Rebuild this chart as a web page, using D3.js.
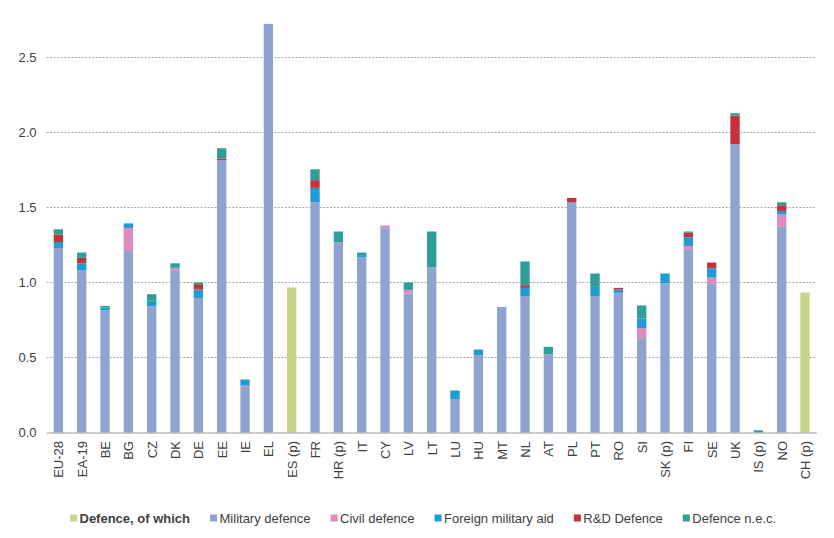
<!DOCTYPE html>
<html>
<head>
<meta charset="utf-8">
<script src="https://cdn.jsdelivr.net/npm/d3@7"></script>
<style>
  body { margin: 0; background: #fff; }
  svg { display: block; font-family: "Liberation Sans", Arial, sans-serif; }
</style>
</head>
<body>
<svg id="chart" width="834" height="538"></svg>
<script>
const categories = ["EU-28","EA-19","BE","BG","CZ","DK","DE","EE","IE","EL","ES (p)","FR","HR (p)","IT","CY","LV","LT","LU","HU","MT","NL","AT","PL","PT","RO","SI","SK (p)","FI","SE","UK","IS (p)","NO","CH (p)"];

// Total defence only (countries without breakdown)
const defenceTotal = [0,0,0,0,0,0,0,0,0,0,0.967,0,0,0,0,0,0,0,0,0,0,0,0,0,0,0,0,0,0,0,0,0,0.933];
const militaryDefence = [1.23,1.08,0.815,1.21,0.842,1.077,0.897,1.815,0.304,2.724,0,1.535,1.267,1.167,1.362,0.927,1.10,0.22,0.515,0.837,0.909,0.522,1.531,0.909,0.931,0.629,0.995,1.217,0.989,1.922,0,1.371,0];
const civilDefence = [0,0,0,0.154,0,0.016,0,0,0.008,0,0,0,0,0,0.018,0.024,0,0,0,0,0,0,0,0,0,0.068,0,0.027,0.044,0,0,0.082,0];
const foreignMilitaryAid = [0.04,0.047,0.018,0.03,0.03,0.005,0.056,0,0.041,0,0,0.096,0,0.01,0,0,0,0.06,0.038,0,0.055,0,0.004,0.062,0.022,0.063,0.065,0.058,0.062,0,0.015,0.024,0];
const rdDefence = [0.05,0.037,0,0,0.006,0,0.036,0.012,0,0,0,0.051,0,0,0,0,0,0,0,0,0.018,0,0.029,0,0.011,0,0,0.029,0.038,0.191,0,0.038,0];
const defenceNec = [0.035,0.036,0.011,0,0.044,0.03,0.011,0.068,0,0,0,0.073,0.073,0.023,0,0.049,0.24,0,0,0,0.158,0.049,0,0.089,0,0.087,0,0.009,0,0.016,0,0.02,0];
const yTicks = [0, 0.5, 1.0, 1.5, 2.0, 2.5];

const seriesNames = ["Defence, of which","Military defence","Civil defence","Foreign military aid","R&D Defence","Defence n.e.c."];
const seriesColors = ["#c9d38a","#8ea3cf","#de8cbf","#1f9bd7","#c8303a","#2e9e98"];
const seriesData = [defenceTotal, militaryDefence, civilDefence, foreignMilitaryAid, rdDefence, defenceNec];

const svg = d3.select("#chart");
const plotLeft = 46.7, plotRight = 816.7, plotTop = 20, plotBottom = 432.5;

const x = d3.scaleBand().domain(categories).range([plotLeft, plotRight]).paddingInner(0.6).paddingOuter(0.3);
const y = d3.scaleLinear().domain([0, 2.75]).range([plotBottom, plotTop]);

// gridlines
svg.append("g").selectAll("line").data(yTicks.filter(d => d > 0)).join("line")
  .attr("x1", plotLeft).attr("x2", plotRight)
  .attr("y1", d => y(d)).attr("y2", d => y(d))
  .attr("stroke", "#a6a6a6").attr("stroke-width", 1).attr("stroke-dasharray", "2,1.5");

// y labels
svg.append("g").selectAll("text").data(yTicks).join("text")
  .attr("x", 36.5).attr("y", d => y(d)).attr("dy", "0.35em")
  .attr("text-anchor", "end").attr("font-size", 13).attr("fill", "#404040")
  .text(d => d.toFixed(1));

// stacked bars
const rows = categories.map((c, i) => {
  const o = { cat: c };
  seriesNames.forEach((s, k) => { o[s] = seriesData[k][i]; });
  return o;
});
const stack = d3.stack().keys(seriesNames)(rows);
svg.append("g").selectAll("g").data(stack).join("g")
  .attr("fill", (d, k) => seriesColors[k])
  .selectAll("rect").data(d => d.filter(p => p[1] - p[0] > 0)).join("rect")
  .attr("x", d => x(d.data.cat))
  .attr("width", x.bandwidth())
  .attr("y", d => y(d[1]))
  .attr("height", d => y(d[0]) - y(d[1]));

// baseline
svg.append("line").attr("x1", plotLeft).attr("x2", plotRight)
  .attr("y1", y(0) + 0.5).attr("y2", y(0) + 0.5)
  .attr("stroke", "#9a9a9a").attr("stroke-width", 1);

// x labels
svg.append("g").selectAll("text").data(categories).join("text")
  .attr("transform", d => `translate(${x(d) + x.bandwidth() / 2 + 0.5},441) rotate(-90)`)
  .attr("text-anchor", "end").attr("dy", "0.35em")
  .attr("font-size", 13).attr("fill", "#404040")
  .text(d => d);

// legend
const lg = svg.append("g");
let lx = 70;
seriesNames.forEach((s, k) => {
  lg.append("rect").attr("x", lx).attr("y", 514.5).attr("width", 7).attr("height", 7).attr("fill", seriesColors[k]);
  const t = lg.append("text").attr("x", lx + 9.5).attr("y", 518).attr("dy", "0.35em")
    .attr("font-size", 13).attr("fill", "#404040")
    .attr("font-weight", k === 0 ? "bold" : "normal")
    .text(s);
  lx += 9.5 + t.node().getComputedTextLength() + 20;
});
</script>
</body>
</html>
